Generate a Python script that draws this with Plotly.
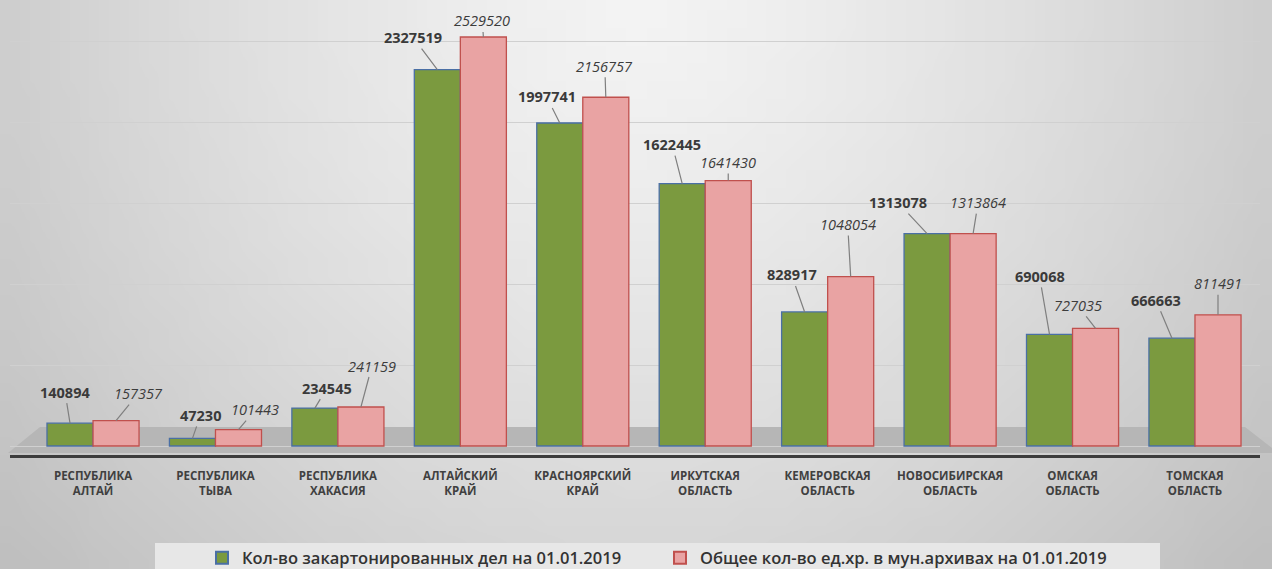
import base64, struct, zlib, math
import plotly.graph_objects as go

# ---------------- data ----------------
categories = ["РЕСПУБЛИКА<br>АЛТАЙ", "РЕСПУБЛИКА<br>ТЫВА", "РЕСПУБЛИКА<br>ХАКАСИЯ",
              "АЛТАЙСКИЙ<br>КРАЙ", "КРАСНОЯРСКИЙ<br>КРАЙ", "ИРКУТСКАЯ<br>ОБЛАСТЬ",
              "КЕМЕРОВСКАЯ<br>ОБЛАСТЬ", "НОВОСИБИРСКАЯ<br>ОБЛАСТЬ", "ОМСКАЯ<br>ОБЛАСТЬ",
              "ТОМСКАЯ<br>ОБЛАСТЬ"]
boxed_cases = [140894, 47230, 234545, 2327519, 1997741, 1622445, 828917, 1313078, 690068, 666663]
total_units = [157357, 101443, 241159, 2529520, 2156757, 1641430, 1048054, 1313864, 727035, 811491]
series_names = ["Кол-во закартонированных дел на 01.01.2019",
                "Общее кол-во ед.хр. в мун.архивах на 01.01.2019"]

# label offsets (pixels) - styling only
green_dx = [-5, 8, 12, -24, -13, -10, -13, -29, -10, -16]
green_dy = [-31, -23, -20, -32, -26, -39, -37, -31, -58, -38]
pink_dx = [22, 17, 11, -1, -1, 0, -3, 5, -18, 0]
pink_dy = [-27, -20, -41, -16, -31, -18, -52, -31, -23, -31]

W, H = 1272, 569
GREEN, GREEN_LINE = "#7b9a3f", "#4a6fa5"
PINK, PINK_LINE = "#e9a3a3", "#c0504d"


# ---------------- background gradient image ----------------
def make_png(w, h):
    rows = []
    for j in range(h):
        row = bytearray([0])
        yn = j / (h - 1)
        for i in range(w):
            xn = i / (w - 1)
            d = math.sqrt(((xn - 0.5) / 0.55) ** 2 + (yn / 1.3) ** 2)
            v = int(max(188, min(244, 244 - 42 * d ** 1.3)))
            row += bytes([v, v, v])
        rows.append(bytes(row))
    raw = b"".join(rows)

    def chunk(t, data):
        c = struct.pack(">I", len(data)) + t + data
        return c + struct.pack(">I", zlib.crc32(t + data) & 0xffffffff)

    png = b"\x89PNG\r\n\x1a\n" + chunk(b"IHDR", struct.pack(">IIBBBBB", w, h, 8, 2, 0, 0, 0)) \
        + chunk(b"IDAT", zlib.compress(raw, 9)) + chunk(b"IEND", b"")
    return "data:image/png;base64," + base64.b64encode(png).decode()


bg_src = make_png(64, 32)

fig = go.Figure()
xs = list(range(len(categories)))
fig.add_trace(go.Bar(x=xs, y=boxed_cases, name=series_names[0],
                     marker=dict(color=GREEN, line=dict(color=GREEN_LINE, width=1.3))))
fig.add_trace(go.Bar(x=xs, y=total_units, name=series_names[1],
                     marker=dict(color=PINK, line=dict(color=PINK_LINE, width=1.3))))

annotations = []
for i in xs:
    annotations.append(dict(x=i - 0.188, y=boxed_cases[i], xref="x", yref="y",
                            text=str(boxed_cases[i]), showarrow=True, arrowhead=0,
                            arrowwidth=1.2, arrowcolor="#7f7f7f", ax=green_dx[i], ay=green_dy[i],
                            standoff=0, startstandoff=0,
                            font=dict(family="Open Sans", size=14.5, color="#3a3a3a", weight="bold")))
    annotations.append(dict(x=i + 0.188, y=total_units[i], xref="x", yref="y",
                            text=str(total_units[i]), showarrow=True, arrowhead=0,
                            arrowwidth=1.2, arrowcolor="#7f7f7f", ax=pink_dx[i], ay=pink_dy[i],
                            standoff=0, startstandoff=0,
                            font=dict(family="Open Sans", size=14.5, color="#3c3c3c", style="italic")))

# pixel -> paper helpers for decorative shapes
px = lambda v: v / W
py = lambda v: (H - v) / H

shapes = [
    # floor
    dict(type="path", xref="paper", yref="paper", layer="below",
         path=f"M {px(8)},{py(453)} L {px(40)},{py(427)} L {px(1245)},{py(427)} L {px(1272)},{py(448)} L {px(1272)},{py(453)} Z",
         fillcolor="#b6b6b6", line=dict(width=0)),
    # legend panel
    dict(type="rect", xref="paper", yref="paper", layer="below",
         x0=px(155), x1=px(1160), y0=0, y1=py(543),
         fillcolor="#e7e7e7", line=dict(width=0)),
]

k = 409 / 2529520.0
y_min = -9 / k
y_max = (446 - 10) / k
x_unit = 122.4
x_min = -(93 - 10) / x_unit
x_max = 9 + (1260 - 1195) / x_unit

fig.update_layout(
    width=W, height=H,
    margin=dict(l=0, r=0, t=0, b=0, autoexpand=False),
    paper_bgcolor="#dcdcdc",
    plot_bgcolor="rgba(0,0,0,0)",
    barmode="group", bargap=0.248, bargroupgap=0,
    font=dict(family="Open Sans", color="#404040"),
    images=[dict(source=bg_src, xref="paper", yref="paper", x=0, y=1, sizex=1, sizey=1,
                 xanchor="left", yanchor="top", sizing="stretch", layer="below")],
    shapes=shapes,
    annotations=annotations,
    showlegend=True,
    legend=dict(orientation="h", x=px(202), xanchor="left", y=py(558), yanchor="middle",
                bgcolor="rgba(0,0,0,0)",
                font=dict(family="Open Sans", size=16.5, color="#333333", weight=600),
                entrywidth=413, entrywidthmode="pixels", itemsizing="constant"),
    xaxis=dict(domain=[px(10), px(1260)], range=[x_min, x_max], tickmode="array",
               tickvals=xs, ticktext=categories, showline=True, linecolor="#3c3c3c", linewidth=3,
               showgrid=False, zeroline=False, ticks="", ticklabelstandoff=8, automargin=False,
               tickfont=dict(family="Open Sans", size=11.5, color="#404040", weight="bold")),
    yaxis=dict(domain=[(H - 455) / H, (H - 10) / H], range=[y_min, y_max], showticklabels=False,
               showgrid=True, gridcolor="#d0d0d0", gridwidth=1, dtick=500000, zeroline=False,
               showline=False, automargin=False),
)

fig.write_html("out.html", config={"displayModeBar": False},
               post_script="document.body.style.margin='0';document.body.style.overflow='hidden';")
